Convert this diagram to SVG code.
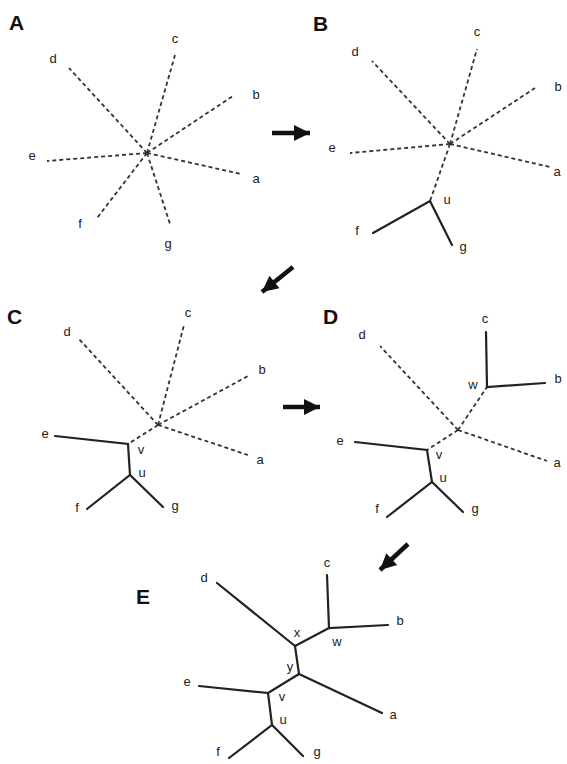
<svg xmlns="http://www.w3.org/2000/svg" width="567" height="764" viewBox="0 0 567 764">
<style>
.dash{stroke:#333;stroke-width:1.8;stroke-dasharray:4,3;fill:none}
.solid{stroke:#222;stroke-width:2.2;fill:none;stroke-linecap:round}
.lbl{font-family:"Liberation Sans",Arial,sans-serif;font-size:13px;fill:#222;text-anchor:middle}
.panel{font-family:"Liberation Sans",Arial,sans-serif;font-size:21px;font-weight:bold;fill:#111}
.step{stroke:#111;stroke-width:4.5;fill:none}
</style>
<defs>
<marker id="ah" viewBox="0 0 10 10" refX="10" refY="5" markerUnits="userSpaceOnUse" markerWidth="20" markerHeight="16" orient="auto">
<path d="M0,0 L10,5 L0,10 Z" fill="#111"/>
</marker>
</defs>
<rect width="567" height="764" fill="#fff"/>
<g id="connectors">
<g id="edges-A">
<line class="dash" x1="147" y1="153" x2="175" y2="55"/>
<line class="dash" x1="147" y1="153" x2="69" y2="68"/>
<line class="dash" x1="147" y1="153" x2="233" y2="96"/>
<line class="dash" x1="147" y1="153" x2="47" y2="161"/>
<line class="dash" x1="147" y1="153" x2="241" y2="174"/>
<line class="dash" x1="147" y1="153" x2="97" y2="218"/>
<line class="dash" x1="147" y1="153" x2="170" y2="224"/>
</g>
<g id="edges-B">
<line class="dash" x1="450" y1="144" x2="477" y2="49"/>
<line class="dash" x1="450" y1="144" x2="372" y2="61"/>
<line class="dash" x1="450" y1="144" x2="535" y2="88"/>
<line class="dash" x1="450" y1="144" x2="350" y2="153"/>
<line class="dash" x1="450" y1="144" x2="550" y2="167"/>
<line class="dash" x1="450" y1="144" x2="430" y2="201"/>
<polyline class="solid" points="373,233 430,201 452,245"/>
</g>
<g id="edges-C">
<line class="dash" x1="158" y1="425" x2="184" y2="325"/>
<line class="dash" x1="158" y1="425" x2="79" y2="339"/>
<line class="dash" x1="158" y1="425" x2="248" y2="376"/>
<line class="dash" x1="158" y1="425" x2="248" y2="455"/>
<line class="dash" x1="158" y1="425" x2="128" y2="444"/>
<polyline class="solid" points="55,436 128,444 130,475"/>
<polyline class="solid" points="87,509 130,475 163,507"/>
</g>
<g id="edges-D">
<line class="dash" x1="458" y1="430" x2="380" y2="346"/>
<line class="dash" x1="458" y1="430" x2="487" y2="387"/>
<line class="dash" x1="458" y1="430" x2="547" y2="461"/>
<line class="dash" x1="458" y1="430" x2="427" y2="450"/>
<polyline class="solid" points="486,332 487,387 545,383"/>
<polyline class="solid" points="355,442 427,450 432,482"/>
<polyline class="solid" points="387,517 432,482 463,512"/>
</g>
<g id="edges-E">
<line class="solid" x1="295" y1="646" x2="217" y2="583"/>
<line class="solid" x1="295" y1="646" x2="329" y2="628"/>
<polyline class="solid" points="327,575 329,628 388,625"/>
<line class="solid" x1="295" y1="646" x2="299" y2="674"/>
<line class="solid" x1="299" y1="674" x2="382" y2="713"/>
<line class="solid" x1="299" y1="674" x2="268" y2="693"/>
<polyline class="solid" points="199,686 268,693 272,725"/>
<polyline class="solid" points="229,758 272,725 303,756"/>
</g>
<g id="step-arrows">
<line class="step" x1="272" y1="133" x2="310" y2="133" marker-end="url(#ah)"/>
<line class="step" x1="293" y1="267" x2="262" y2="292" marker-end="url(#ah)"/>
<line class="step" x1="283" y1="407" x2="320" y2="407" marker-end="url(#ah)"/>
<line class="step" x1="408" y1="544" x2="380" y2="570" marker-end="url(#ah)"/>
</g>
</g>
<g id="panel-A">
<text class="panel" x="9" y="30">A</text>
<g id="A-c"><text class="lbl" x="175" y="43">c</text></g>
<g id="A-d"><text class="lbl" x="53" y="63">d</text></g>
<g id="A-b"><text class="lbl" x="256" y="99">b</text></g>
<g id="A-e"><text class="lbl" x="32" y="160">e</text></g>
<g id="A-a"><text class="lbl" x="256" y="183">a</text></g>
<g id="A-f"><text class="lbl" x="80" y="228">f</text></g>
<g id="A-g"><text class="lbl" x="168" y="248">g</text></g>
</g>
<g id="panel-B">
<text class="panel" x="313" y="31">B</text>
<g id="B-c"><text class="lbl" x="477" y="36">c</text></g>
<g id="B-d"><text class="lbl" x="355" y="56">d</text></g>
<g id="B-b"><text class="lbl" x="558" y="91">b</text></g>
<g id="B-e"><text class="lbl" x="332" y="152">e</text></g>
<g id="B-a"><text class="lbl" x="557" y="176">a</text></g>
<g id="B-u"><text class="lbl" x="447" y="204">u</text></g>
<g id="B-f"><text class="lbl" x="357" y="235">f</text></g>
<g id="B-g"><text class="lbl" x="463" y="251">g</text></g>
</g>
<g id="panel-C">
<text class="panel" x="7" y="324">C</text>
<g id="C-c"><text class="lbl" x="188" y="317">c</text></g>
<g id="C-d"><text class="lbl" x="67" y="336">d</text></g>
<g id="C-b"><text class="lbl" x="262" y="374">b</text></g>
<g id="C-a"><text class="lbl" x="260" y="464">a</text></g>
<g id="C-v"><text class="lbl" x="141" y="454">v</text></g>
<g id="C-e"><text class="lbl" x="45" y="438">e</text></g>
<g id="C-u"><text class="lbl" x="142" y="477">u</text></g>
<g id="C-f"><text class="lbl" x="77" y="512">f</text></g>
<g id="C-g"><text class="lbl" x="175" y="510">g</text></g>
</g>
<g id="panel-D">
<text class="panel" x="323" y="324">D</text>
<g id="D-d"><text class="lbl" x="362" y="339">d</text></g>
<g id="D-w"><text class="lbl" x="473" y="389">w</text></g>
<g id="D-c"><text class="lbl" x="485" y="323">c</text></g>
<g id="D-b"><text class="lbl" x="558" y="383">b</text></g>
<g id="D-a"><text class="lbl" x="557" y="467">a</text></g>
<g id="D-v"><text class="lbl" x="439" y="459">v</text></g>
<g id="D-e"><text class="lbl" x="340" y="445">e</text></g>
<g id="D-u"><text class="lbl" x="443" y="482">u</text></g>
<g id="D-f"><text class="lbl" x="377" y="513">f</text></g>
<g id="D-g"><text class="lbl" x="475" y="513">g</text></g>
</g>
<g id="panel-E">
<text class="panel" x="136" y="604">E</text>
<g id="E-d"><text class="lbl" x="204" y="582">d</text></g>
<g id="E-x"><text class="lbl" x="297" y="637">x</text></g>
<g id="E-w"><text class="lbl" x="337" y="646">w</text></g>
<g id="E-c"><text class="lbl" x="327" y="567">c</text></g>
<g id="E-b"><text class="lbl" x="400" y="625">b</text></g>
<g id="E-y"><text class="lbl" x="290" y="671">y</text></g>
<g id="E-a"><text class="lbl" x="393" y="719">a</text></g>
<g id="E-v"><text class="lbl" x="282" y="701">v</text></g>
<g id="E-e"><text class="lbl" x="187" y="686">e</text></g>
<g id="E-u"><text class="lbl" x="283" y="724">u</text></g>
<g id="E-f"><text class="lbl" x="218" y="756">f</text></g>
<g id="E-g"><text class="lbl" x="317" y="756">g</text></g>
</g>
</svg>
